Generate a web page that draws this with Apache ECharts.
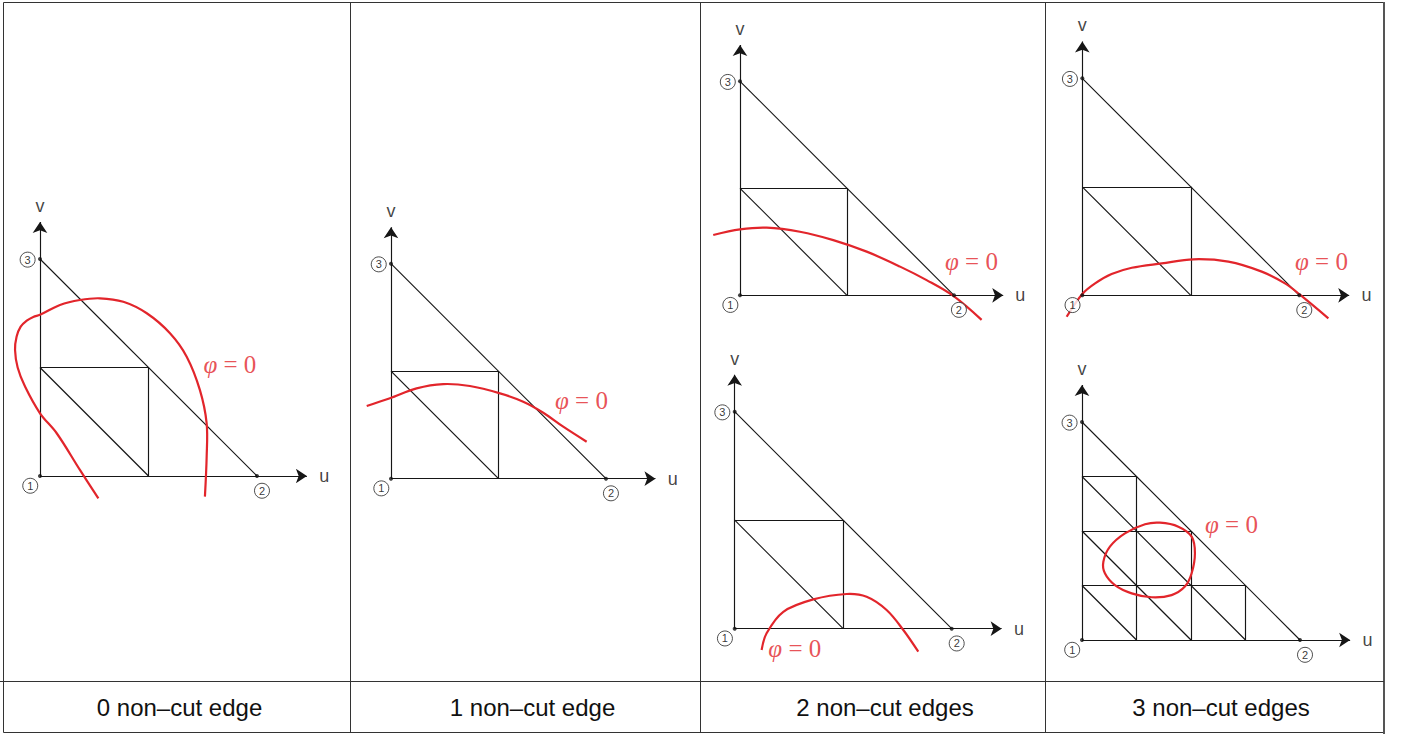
<!DOCTYPE html>
<html><head><meta charset="utf-8">
<script src="https://cdn.jsdelivr.net/npm/echarts@6/dist/echarts.min.js"></script>
<style>html,body{margin:0;padding:0;background:#fff}#c{width:1402px;height:736px}</style>
</head><body><div id="c"></div>
<script>
// ---------- data ----------
const captions = ['0 non\u2013cut edge', '1 non\u2013cut edge', '2 non\u2013cut edges', '3 non\u2013cut edges'];

// reference triangle vertices (u, v) and their node numbers
const vertices = [[0, 0], [1, 0], [0, 1]];
const nodeLabels = [[-0.045, -0.045, '1'], [1.023, -0.068, '2'], [-0.057, 0.997, '3']];
const axisNames = [[1.31, 0, 'u'], [0, 1.245, 'v']];
const axisTips = { u: 1.23, v: 1.17 };

// sub-meshes (segments in u,v)
const meshCoarse = [
  [[1, 0], [0, 1]],
  [[0, 0.5], [0.5, 0.5]],
  [[0.5, 0.5], [0.5, 0]],
  [[0, 0.5], [0.5, 0]]
];
const meshFine = [
  [[1, 0], [0, 1]],
  [[0, 0.25], [0.75, 0.25]],
  [[0, 0.5], [0.5, 0.5]],
  [[0, 0.75], [0.25, 0.75]],
  [[0.25, 0], [0.25, 0.75]],
  [[0.5, 0], [0.5, 0.5]],
  [[0.75, 0], [0.75, 0.25]],
  [[0, 0.25], [0.25, 0]],
  [[0, 0.5], [0.5, 0]],
  [[0, 0.75], [0.75, 0]]
];

// level-set curves phi = 0 (u, v)
const curve0 = [[0.269, -0.103], [0.184, 0.028], [0.077, 0.197], [0, 0.289], [-0.069, 0.412], [-0.103, 0.500], [-0.115, 0.581], [-0.108, 0.642], [-0.089, 0.688], [-0.061, 0.716], [-0.031, 0.733], [0, 0.743], [0.092, 0.788], [0.184, 0.811], [0.276, 0.819], [0.384, 0.803], [0.492, 0.750], [0.599, 0.658], [0.676, 0.550], [0.737, 0.396], [0.768, 0.243], [0.768, 0.089], [0.760, -0.095]];
const curve1 = [[-0.113, 0.338], [-0.005, 0.374], [0.119, 0.420], [0.243, 0.440], [0.367, 0.431], [0.507, 0.397], [0.615, 0.358], [0.708, 0.307], [0.801, 0.242], [0.910, 0.172]];
const curve2a = [[-0.125, 0.282], [0, 0.308], [0.125, 0.316], [0.280, 0.297], [0.436, 0.258], [0.592, 0.204], [0.748, 0.134], [0.872, 0.071], [0.997, -0.003], [1.129, -0.115]];
const curve2b = [[0.124, -0.098], [0.147, -0.021], [0.224, 0.078], [0.362, 0.135], [0.516, 0.160], [0.608, 0.147], [0.700, 0.086], [0.777, -0.006], [0.846, -0.106]];
const curve3a = [[-0.072, -0.099], [0, 0.006], [0.059, 0.055], [0.135, 0.098], [0.228, 0.127], [0.366, 0.147], [0.512, 0.166], [0.673, 0.155], [0.827, 0.109], [0.934, 0.055], [1.003, 0.003], [1.134, -0.106]];
// closed loop
const curve3b = [[0.105, 0.306], [0.098, 0.359], [0.128, 0.428], [0.197, 0.489], [0.289, 0.531], [0.358, 0.538], [0.442, 0.520], [0.503, 0.474], [0.518, 0.398], [0.503, 0.306], [0.472, 0.245], [0.411, 0.206], [0.320, 0.196], [0.228, 0.214], [0.151, 0.252]];

// phi = 0 label anchor (u, v), left-middle of text
const phiLabels = [[0.753, 0.512], [0.763, 0.366], [0.958, 0.157], [0.155, -0.090], [0.980, 0.155], [0.564, 0.528]];

// ---------- layout ----------
const panels = [
  { ox: 40,     oy: 476,   s: 217, mesh: meshCoarse, curve: curve0,  phi: phiLabels[0] },
  { ox: 391,    oy: 478.7, s: 215, mesh: meshCoarse, curve: curve1,  phi: phiLabels[1] },
  { ox: 740,    oy: 295.3, s: 214, mesh: meshCoarse, curve: curve2a, phi: phiLabels[2] },
  { ox: 734.7,  oy: 628.7, s: 217, mesh: meshCoarse, curve: curve2b, phi: phiLabels[3] },
  { ox: 1082.3, oy: 295.3, s: 217, mesh: meshCoarse, curve: curve3a, phi: phiLabels[4] },
  { ox: 1082,   oy: 640,   s: 218, mesh: meshFine,   curve: curve3b, phi: phiLabels[5], closed: true }
];
const captionCenters = [179.5, 532.5, 885, 1221];
const XMIN = -0.15, XMAX = 1.4, YMIN = -0.15, YMAX = 1.3;
const RED = '#e2252b', INK = '#161616';

const grid = [], xAxis = [], yAxis = [], series = [];
panels.forEach((p, i) => {
  grid.push({ left: p.ox + XMIN * p.s, top: p.oy - YMAX * p.s, width: (XMAX - XMIN) * p.s, height: (YMAX - YMIN) * p.s });
  xAxis.push({ type: 'value', gridIndex: i, min: XMIN, max: XMAX, show: false });
  yAxis.push({ type: 'value', gridIndex: i, min: YMIN, max: YMAX, show: false });
  const ax = { xAxisIndex: i, yAxisIndex: i, silent: true };
  series.push(Object.assign({
    type: 'lines', coordinateSystem: 'cartesian2d',
    data: p.mesh.map(seg => ({ coords: seg })),
    lineStyle: { color: INK, width: 1.15, opacity: 1 }, symbol: 'none', z: 2
  }, ax));
  series.push(Object.assign({
    type: 'lines', coordinateSystem: 'cartesian2d',
    data: [{ coords: [[0, 0], [axisTips.u, 0]] }, { coords: [[0, 0], [0, axisTips.v]] }],
    lineStyle: { color: INK, width: 1.15, opacity: 1 }, symbol: ['none', 'arrow'], symbolSize: [0, 11], z: 2
  }, ax));
  // phi = 0 curve: one smooth path through the data points (mapped by the axes)
  series.push(Object.assign({
    type: 'custom', data: p.curve, clip: false, z: 5,
    renderItem: (params, api) => {
      if (params.dataIndex !== 0) return null;
      const pts = p.curve.map(pt => api.coord(pt));
      return {
        type: p.closed ? 'polygon' : 'polyline',
        shape: { points: pts, smooth: 0.35 },
        style: { fill: 'none', stroke: RED, lineWidth: 2.2 }
      };
    }
  }, ax));
  series.push(Object.assign({
    type: 'scatter', data: vertices, symbolSize: 4, itemStyle: { color: '#111' }, z: 6
  }, ax));
  series.push(Object.assign({
    type: 'scatter', data: nodeLabels, symbolSize: 15,
    itemStyle: { color: '#fff', borderColor: '#222', borderWidth: 1 },
    label: { show: true, position: 'inside', formatter: d => d.value[2], fontSize: 11, color: '#000', fontFamily: 'Liberation Sans' },
    z: 7
  }, ax));
  series.push(Object.assign({
    type: 'scatter', data: axisNames, symbolSize: 0,
    label: { show: true, position: 'inside', formatter: d => d.value[2], fontSize: 18, color: '#111', fontFamily: 'Liberation Sans' },
    z: 7
  }, ax));
  series.push(Object.assign({
    type: 'scatter', data: [p.phi], symbolSize: 0,
    label: {
      show: true, position: 'right', distance: 0,
      formatter: '{a|\u03c6}{b| = 0}',
      rich: {
        a: { fontFamily: 'Liberation Serif', fontStyle: 'italic', fontSize: 25, color: RED },
        b: { fontFamily: 'Liberation Serif', fontSize: 25, color: RED }
      }
    },
    z: 8
  }, ax));
});

const graphic = [
  { type: 'rect', shape: { x: 3.5, y: 2.5, width: 1380, height: 730 }, style: { fill: 'none', stroke: '#333', lineWidth: 1 }, silent: true },
  { type: 'line', shape: { x1: 1384, y1: 2, x2: 1384, y2: 734 }, style: { stroke: '#555', lineWidth: 2 }, silent: true },
  { type: 'line', shape: { x1: 0, y1: 681.5, x2: 1384, y2: 681.5 }, style: { stroke: '#333', lineWidth: 1 }, silent: true },
  { type: 'line', shape: { x1: 350.5, y1: 2, x2: 350.5, y2: 733 }, style: { stroke: '#333', lineWidth: 1 }, silent: true },
  { type: 'line', shape: { x1: 700.5, y1: 2, x2: 700.5, y2: 733 }, style: { stroke: '#333', lineWidth: 1 }, silent: true },
  { type: 'line', shape: { x1: 1045.5, y1: 2, x2: 1045.5, y2: 733 }, style: { stroke: '#333', lineWidth: 1 }, silent: true }
];
captions.forEach((t, i) => {
  graphic.push({
    type: 'text', x: captionCenters[i], y: 707,
    style: { text: t, fontSize: 24, fontFamily: 'Liberation Sans', fill: '#111', textAlign: 'center', textVerticalAlign: 'middle' },
    silent: true
  });
});

const chart = echarts.init(document.getElementById('c'), null, { renderer: 'svg' });
chart.setOption({ animation: false, backgroundColor: '#fff', grid, xAxis, yAxis, series, graphic });
</script>
</body></html>
